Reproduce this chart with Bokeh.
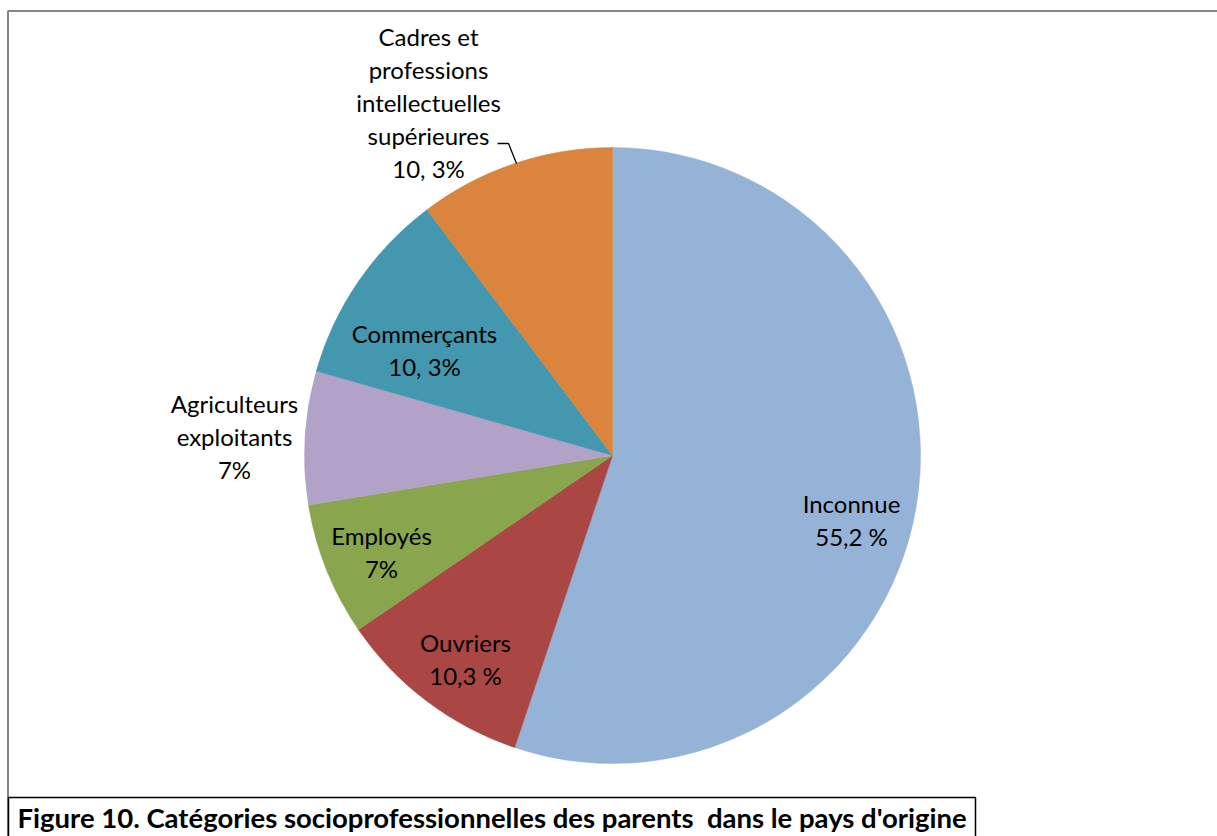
from bokeh.plotting import figure
from bokeh.models import Range1d, ColumnDataSource
from bokeh.core.properties import value
from bokeh.embed import file_html
from bokeh.resources import INLINE
import math

# ---- data ----
categories = ["Inconnue", "Ouvriers", "Employés", "Agriculteurs\nexploitants",
              "Commerçants", "Cadres et\nprofessions\nintellectuelles\nsupérieures"]
values = [55.2, 10.3, 7.0, 7.0, 10.3, 10.3]
value_labels = ["55,2 %", "10,3 %", "7%", "7%", "10, 3%", "10, 3%"]
colors = ["#95B3D7", "#AA4643", "#89A54E", "#B3A2C7", "#4398AF", "#DB843D"]
title_text = "Figure 10. Catégories socioprofessionnelles des parents\u00a0 dans le pays d'origine"

# ---- layout (image pixel coords; data y = H - img y) ----
W, H = 1217, 836
CX, CY, R = 612, 455, 308
label_pos = [(851, 519), (465, 658), (381, 551), (234, 436), (424, 349), (428, 102)]
FONT = "Lato"
FS = "24px"

p = figure(width=W, height=H, x_range=Range1d(0, W), y_range=Range1d(0, H),
           output_backend="svg", toolbar_location=None, min_border=0)
p.axis.visible = False
p.grid.visible = False
p.outline_line_color = None
p.background_fill_color = "white"
p.border_fill_color = "white"

# outer gray frame (top and left edges)
p.line(x=[7.5, 7.5, W + 5], y=[-5, H - 10.5, H - 10.5], line_color="#868686", line_width=2)

# pie wedges, clockwise from 12 o'clock
total = sum(values)
a = math.pi / 2
starts, ends = [], []
for v in values:
    a1 = a - v / total * 2 * math.pi
    starts.append(a1)
    ends.append(a)
    a = a1
src = ColumnDataSource(dict(start=starts, end=ends, color=colors))
p.wedge(x=CX, y=H - CY, radius=R, start_angle="start", end_angle="end",
        fill_color="color", line_color="color", line_width=0.5, source=src)

# labels
texts, xs, ys = [], [], []
line_h = 33
for cat, vl, (lx, ly) in zip(categories, value_labels, label_pos):
    lines = cat.split("\n") + [vl]
    n = len(lines)
    for i, t in enumerate(lines):
        texts.append(t)
        xs.append(lx)
        ys.append(H - (ly + (i - (n - 1) / 2) * line_h))
p.text(x=xs, y=ys, text=texts, text_align="center", text_baseline="middle",
       text_font=value(FONT), text_font_size=FS, text_color="#000000")

# leader line for the Cadres label
p.line(x=[497, 508, 516], y=[H - 143, H - 143, H - 163], line_color="black", line_width=1.3)

# title box
p.quad(left=8, right=975, top=H - 797, bottom=H - 845, fill_color="white",
       line_color="black", line_width=1.5)
p.text(x=[17], y=[H - 817], text=[title_text], text_align="left", text_baseline="middle",
       text_font=value(FONT), text_font_style="bold", text_font_size="27.5px", text_color="black")

open("out.html", "w").write(file_html(p, INLINE))
